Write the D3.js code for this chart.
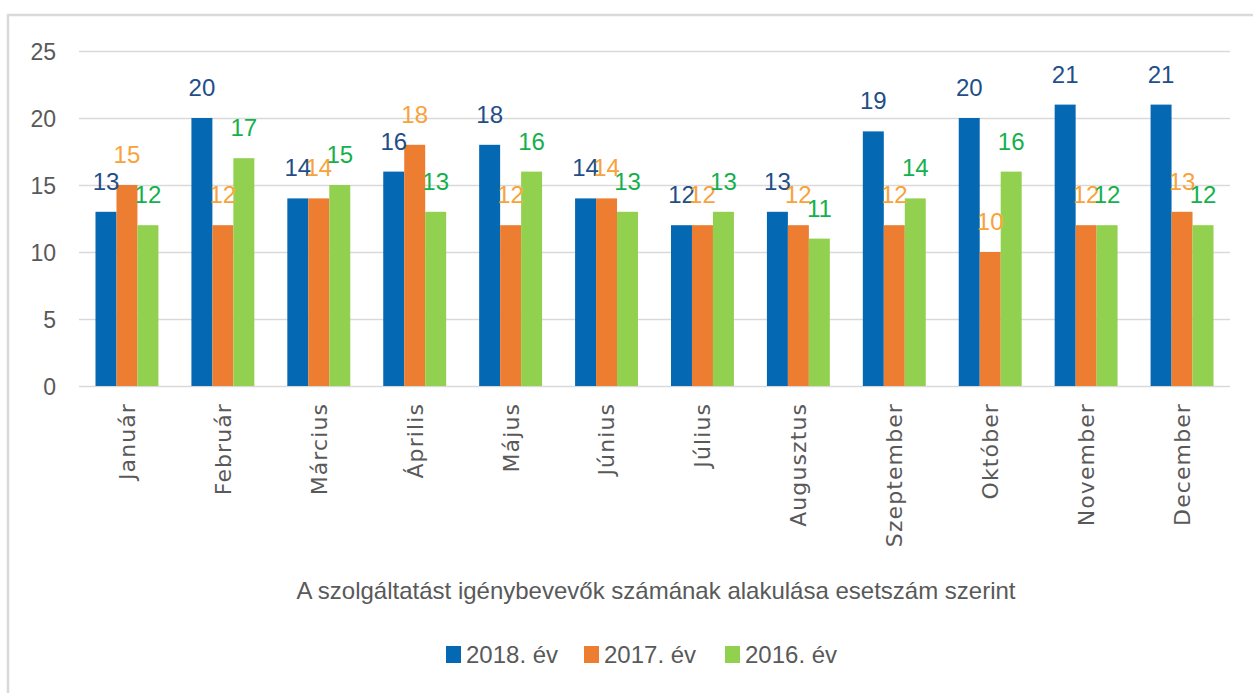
<!DOCTYPE html>
<html>
<head>
<meta charset="utf-8">
<script src="https://cdn.jsdelivr.net/npm/d3@7"></script>
<style>
  body { margin: 0; background: #fff; }
  svg { display: block; }
</style>
</head>
<body>
<svg></svg>
<script>
var width = 1253
var height = 693

// data
var months = ['Január', 'Február', 'Március', 'Április', 'Május', 'Június', 'Július', 'Augusztus', 'Szeptember', 'Október', 'November', 'December']
var seriesNames = ['2018. év', '2017. év', '2016. év']
var values2018 = [13, 20, 14, 16, 18, 14, 12, 13, 19, 20, 21, 21]
var values2017 = [15, 12, 14, 18, 12, 14, 12, 12, 12, 10, 12, 13]
var values2016 = [12, 17, 15, 13, 16, 13, 13, 11, 14, 16, 12, 12]
var yTicks = [0, 5, 10, 15, 20, 25]
var title = 'A szolgáltatást igénybevevők számának alakulása esetszám szerint'

var barColors = ['#0568B3', '#ED7D31', '#92D050']
var labelColors = ['#1F4E89', '#F9A23A', '#14B04C']

var series = [values2018, values2017, values2016].map(function(vals, i) {
	return {name: seriesNames[i], values: vals, color: barColors[i], labelColor: labelColors[i]}
})

var svg = d3.select('svg').attr('width', width).attr('height', height)

// outer frame
svg.append('rect')
	.attr('x', 8).attr('y', 15)
	.attr('width', width + 10).attr('height', height + 10)
	.attr('fill', 'none')
	.attr('stroke', '#D9D9D9')
	.attr('stroke-width', 2.5)

var plot = {left: 79, right: 1230, top: 51, bottom: 386}

var x = d3.scaleBand().domain(months).range([plot.left, plot.right]).paddingInner(0.344).paddingOuter(0.172)
var xs = d3.scaleBand().domain(d3.range(series.length)).range([0, x.bandwidth()])
var y = d3.scaleLinear().domain([0, 25]).range([plot.bottom, plot.top])

// gridlines
svg.append('g').selectAll('line')
	.data(yTicks)
	.enter().append('line')
	.attr('x1', plot.left).attr('x2', plot.right)
	.attr('y1', function(d) {return Math.round(y(d)) + 0.5})
	.attr('y2', function(d) {return Math.round(y(d)) + 0.5})
	.attr('stroke', '#D9D9D9')
	.attr('stroke-width', 1.5)

// y axis labels
var yAxis = d3.axisLeft(y).tickValues(yTicks).tickSize(0).tickPadding(0)
var yg = svg.append('g').attr('transform', 'translate(56,0)').call(yAxis)
yg.select('.domain').remove()
yg.selectAll('text')
	.attr('fill', '#595959')
	.style('font-family', 'Liberation Sans, Arial, sans-serif')
	.style('font-size', '23px')
	.attr('dy', '0.36em')

// bars
var groups = svg.append('g').selectAll('g')
	.data(series)
	.enter().append('g')

groups.selectAll('rect')
	.data(function(s, i) {return s.values.map(function(v, j) {return {month: months[j], value: v, si: i}})})
	.enter().append('rect')
	.attr('x', function(d) {return x(d.month) + xs(d.si)})
	.attr('y', function(d) {return y(d.value)})
	.attr('width', xs.bandwidth())
	.attr('height', function(d) {return y(0) - y(d.value)})
	.attr('fill', function(d) {return series[d.si].color})

// value labels, drawn after all bars so they overlap like the original
svg.append('g').selectAll('g')
	.data(series)
	.enter().append('g')
	.selectAll('text')
	.data(function(s, i) {return s.values.map(function(v, j) {return {month: months[j], value: v, si: i}})})
	.enter().append('text')
	.attr('x', function(d) {return x(d.month) + xs(d.si) + xs.bandwidth() / 2})
	.attr('y', function(d) {return y(d.value) - 22})
	.attr('text-anchor', 'middle')
	.attr('fill', function(d) {return series[d.si].labelColor})
	.style('font-family', 'Liberation Sans, Arial, sans-serif')
	.style('font-size', '24px')
	.text(function(d) {return d.value})

// month labels (rotated)
svg.append('g').selectAll('text')
	.data(months)
	.enter().append('text')
	.attr('transform', function(d) {return 'translate(' + (x(d) + x.bandwidth() / 2) + ',403) rotate(-90)'})
	.attr('text-anchor', 'end')
	.attr('dy', '0.36em')
	.attr('fill', '#595959')
	.style('font-family', 'DejaVu Sans, Verdana, sans-serif')
	.style('font-size', '22px')
	.style('letter-spacing', '1.1px')
	.text(function(d) {return d})

// axis title
svg.append('text')
	.attr('x', 656).attr('y', 599)
	.attr('text-anchor', 'middle')
	.attr('fill', '#595959')
	.style('font-family', 'Liberation Sans, Arial, sans-serif')
	.style('font-size', '24px')
	.text(title)

// legend
var legendX = [446, 584, 725]
var legend = svg.append('g').selectAll('g')
	.data(series)
	.enter().append('g')
	.attr('transform', function(d, i) {return 'translate(' + legendX[i] + ',646)'})

legend.append('rect')
	.attr('width', 15).attr('height', 17)
	.attr('fill', function(d) {return d.color})

legend.append('text')
	.attr('x', 20).attr('y', 17)
	.attr('fill', '#595959')
	.style('font-family', 'Liberation Sans, Arial, sans-serif')
	.style('font-size', '24px')
	.text(function(d) {return d.name})
</script>
</body>
</html>
